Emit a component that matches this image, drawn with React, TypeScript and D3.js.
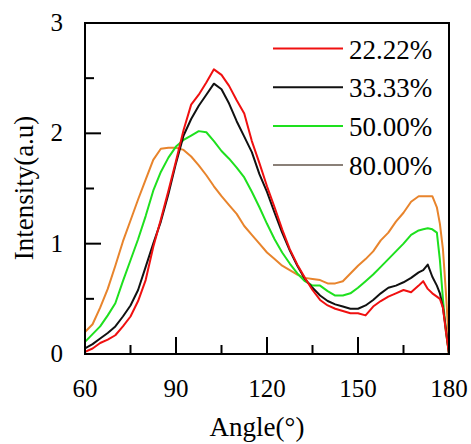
import * as d3 from "d3";

const angles = [
  60, 62.5, 65, 67.5, 70, 72.5, 75, 77.5, 80, 82.5, 85, 87.5, 90, 92.5, 95, 97.5,
  100, 102.5, 105, 107.5, 110, 112.5, 115, 117.5, 120, 122.5, 125, 127.5, 130,
  132.5, 135, 137.5, 140, 142.5, 145, 147.5, 150, 152.5, 155, 157.5, 160, 162.5,
  165, 167.5, 170, 171.5, 173, 174.5, 176, 177, 178, 179, 180,
];

const red = [
  0.02, 0.05, 0.1, 0.13, 0.17, 0.25, 0.34, 0.48, 0.67, 0.97, 1.22, 1.48, 1.75,
  2.03, 2.26, 2.35, 2.46, 2.58, 2.53, 2.43, 2.3, 2.18, 1.93, 1.73, 1.52, 1.33,
  1.13, 0.95, 0.81, 0.69, 0.58, 0.49, 0.44, 0.41, 0.39, 0.37, 0.37, 0.35, 0.43,
  0.48, 0.52, 0.55, 0.58, 0.56, 0.62, 0.66, 0.59, 0.55, 0.52, 0.5, 0.42, 0.2, 0,
];

const black = [
  0.05, 0.09, 0.14, 0.19, 0.25, 0.34, 0.44, 0.58, 0.79, 1.0, 1.2, 1.45, 1.73,
  1.98, 2.13, 2.25, 2.35, 2.45, 2.4, 2.27, 2.11, 1.97, 1.83, 1.63, 1.47, 1.28,
  1.1, 0.94, 0.8, 0.68, 0.6, 0.53, 0.48, 0.45, 0.43, 0.41, 0.41, 0.44, 0.49, 0.55,
  0.6, 0.62, 0.65, 0.69, 0.74, 0.76, 0.81, 0.7, 0.62, 0.55, 0.42, 0.22, 0,
];

const green = [
  0.11, 0.18, 0.25, 0.35, 0.46, 0.66, 0.85, 1.04, 1.25, 1.48, 1.65, 1.78, 1.88,
  1.94, 1.98, 2.02, 2.01, 1.93, 1.84, 1.77, 1.69, 1.6, 1.47, 1.33, 1.18, 1.04,
  0.92, 0.82, 0.73, 0.66, 0.62, 0.62, 0.57, 0.53, 0.53, 0.55, 0.6, 0.66, 0.72,
  0.79, 0.86, 0.93, 1.0, 1.08, 1.12, 1.13, 1.14, 1.13, 1.1, 0.85, 0.5, 0.2, 0,
];

const orange = [
  0.2, 0.27, 0.42, 0.59, 0.8, 1.02, 1.21, 1.4, 1.58, 1.76, 1.86, 1.87, 1.87, 1.85,
  1.79, 1.71, 1.62, 1.52, 1.43, 1.35, 1.27, 1.16, 1.08, 1.0, 0.92, 0.86, 0.8,
  0.76, 0.72, 0.69, 0.68, 0.67, 0.64, 0.64, 0.66, 0.73, 0.8, 0.86, 0.93, 1.03,
  1.1, 1.2, 1.28, 1.38, 1.43, 1.43, 1.43, 1.43, 1.33, 1.18, 0.95, 0.55, 0.08,
];

const seriesNames = ["22.22%", "33.33%", "50.00%", "80.00%"];
const seriesValues = [red, black, green, orange];
const lineColors = ["#f01010", "#111111", "#1ee01e", "#e8842c"];
const legendColors = ["#f01010", "#111111", "#1ee01e", "#8a8078"];

const xTicks = [60, 90, 120, 150, 180];
const yTicks = [0, 1, 2, 3];

const left = 85, right = 449, top = 23, bottom = 354;
const font = "Liberation Serif";

export default function App() {
  const x = d3.scaleLinear().domain([60, 180]).range([left, right]);
  const y = d3.scaleLinear().domain([0, 3]).range([bottom, top]);
  const line = d3
    .line<number>()
    .x((_, i) => x(angles[i]))
    .y((d) => y(d));

  return (
    <svg
      width={471}
      height={444}
      fontFamily={font}
      style={{ position: "absolute", left: 0, top: 0, background: "#fff" }}
    >
      {/* curves, orange underneath, red on top */}
      {[...seriesValues].reverse().map((vals, k) => {
        const s = seriesValues.length - 1 - k;
        return (
          <path
            key={s}
            d={line(vals) ?? ""}
            fill="none"
            stroke={lineColors[s]}
            strokeWidth={2}
            strokeLinejoin="round"
          />
        );
      })}

      <rect
        x={left}
        y={top}
        width={right - left}
        height={bottom - top}
        fill="none"
        stroke="#000"
        strokeWidth={2}
      />

      {/* x ticks, pointing inward */}
      {d3.range(60, 181, 15).map((v) => (
        <line
          key={"xt" + v}
          x1={x(v)}
          x2={x(v)}
          y1={bottom}
          y2={bottom - (v % 30 === 0 ? 17 : 9)}
          stroke="#000"
          strokeWidth={2}
        />
      ))}
      {xTicks.map((v) => (
        <text key={"xl" + v} x={x(v)} y={397} textAnchor="middle" fontFamily={font} fontSize={25}>
          {v}
        </text>
      ))}

      {/* y ticks, pointing inward */}
      {d3.range(0, 3.01, 0.5).map((v) => (
        <line
          key={"yt" + v}
          x1={left}
          x2={left + (Number.isInteger(v) ? 16 : 9)}
          y1={y(v)}
          y2={y(v)}
          stroke="#000"
          strokeWidth={2}
        />
      ))}
      {yTicks.map((v) => (
        <text key={"yl" + v} x={63} y={y(v) + 8} textAnchor="end" fontFamily={font} fontSize={25}>
          {v}
        </text>
      ))}

      <text x={257} y={436} textAnchor="middle" fontFamily={font} fontSize={27}>
        Angle(°)
      </text>
      <text transform="translate(33,188) rotate(-90)" textAnchor="middle" fontFamily={font} fontSize={27}>
        Intensity(a.u)
      </text>

      {seriesNames.map((name, i) => {
        const cy = 48.5 + i * 38.8;
        return (
          <g key={name}>
            <line x1={273} x2={343} y1={cy} y2={cy} stroke={legendColors[i]} strokeWidth={2} />
            <text x={349} y={cy + 10} fontFamily={font} fontSize={27}>
              {name}
            </text>
          </g>
        );
      })}
    </svg>
  );
}
